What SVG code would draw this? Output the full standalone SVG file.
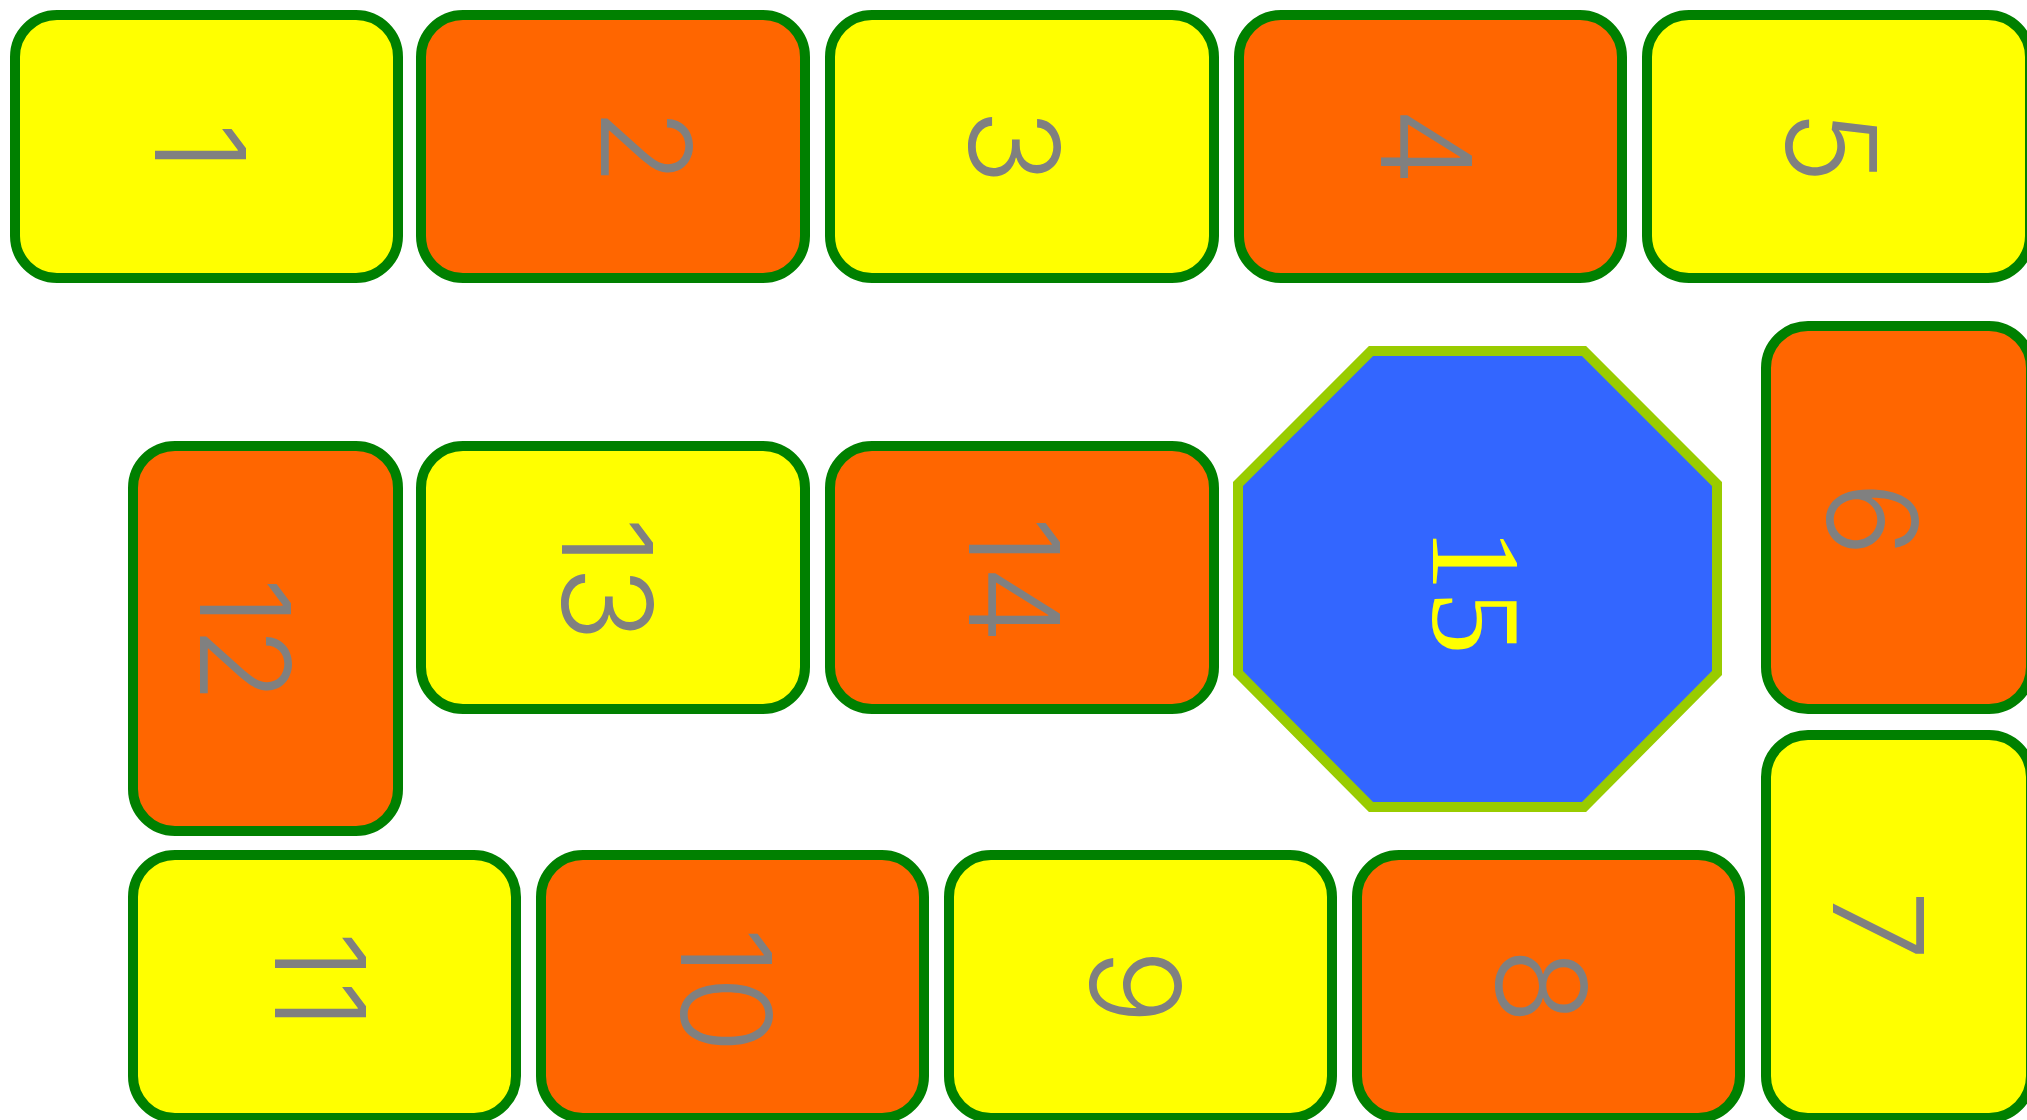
<svg xmlns="http://www.w3.org/2000/svg" width="2027" height="1120" viewBox="0 0 2027 1120">
<style>
.box{stroke:#008000;stroke-width:10}
.y{fill:#ffff00}
.o{fill:#ff6600}
.t{font-family:Inter,"Liberation Sans",sans-serif;font-weight:300;font-size:125px;fill:#808080;text-anchor:middle}
.s{font-family:"Liberation Serif",serif;font-size:127px;fill:#ffff00;text-anchor:middle}
</style>
<rect width="2027" height="1120" fill="#ffffff"/>
<g id="connectors"/>
<g id="n1"><rect class="box y" x="15" y="15" width="383" height="263" rx="42"/><text class="t" transform="translate(155,146.5) rotate(90)">1</text></g>
<g id="n2"><rect class="box o" x="421" y="15" width="384" height="263" rx="42"/><text class="t" transform="translate(601,146.5) rotate(90)">2</text></g>
<g id="n3"><rect class="box y" x="830" y="15" width="384" height="263" rx="42"/><text class="t" transform="translate(969,146.5) rotate(90)">3</text></g>
<g id="n4"><rect class="box o" x="1239" y="15" width="383" height="263" rx="42"/><text class="t" transform="translate(1381,146.5) rotate(90)">4</text></g>
<g id="n5"><rect class="box y" x="1647" y="15" width="383" height="263" rx="42"/><text class="t" transform="translate(1786,146.5) rotate(90)">5</text></g>
<g id="n6"><rect class="box o" x="1766" y="326" width="265" height="383" rx="42"/><text class="t" transform="translate(1827,519) rotate(90)">6</text></g>
<g id="n7"><rect class="box y" x="1766" y="735" width="265" height="383" rx="42"/><text class="t" transform="translate(1833,925.5) rotate(90)">7</text></g>
<g id="n8"><rect class="box o" x="1357" y="855" width="383" height="263" rx="42"/><text class="t" transform="translate(1496,986) rotate(90)">8</text></g>
<g id="n9"><rect class="box y" x="949" y="855" width="383" height="263" rx="42"/><text class="t" transform="translate(1090,986.5) rotate(90)">9</text></g>
<g id="n10"><rect class="box o" x="541" y="855" width="383" height="263" rx="42"/><text class="t" transform="translate(681,990) rotate(90)">10</text></g>
<g id="n11"><rect class="box y" x="133" y="855" width="383" height="263" rx="42"/><text class="t" transform="translate(275,980) rotate(90)">11</text></g>
<g id="n12"><rect class="box o" x="133" y="446" width="265" height="385" rx="42"/><text class="t" transform="translate(200,640) rotate(90)">12</text></g>
<g id="n13"><rect class="box y" x="421" y="446" width="384" height="263" rx="42"/><text class="t" transform="translate(562,579) rotate(90)">13</text></g>
<g id="n14"><rect class="box o" x="830" y="446" width="384" height="263" rx="42"/><text class="t" transform="translate(969,580) rotate(90)">14</text></g>
<g id="n15"><polygon points="1371,351 1584,351 1717,484 1717,673 1584,807 1371,807 1238,673 1238,484" fill="#3366ff" stroke="#99cc00" stroke-width="10"/><text class="s" transform="translate(1433,591) rotate(90)">15</text></g>
</svg>
